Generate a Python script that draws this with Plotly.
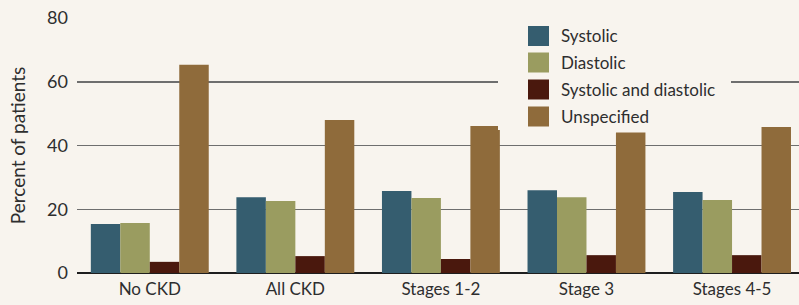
import plotly.graph_objects as go

categories = ["No CKD", "All CKD", "Stages 1-2", "Stage 3", "Stages 4-5"]
systolic = [15.4, 23.8, 25.7, 26.0, 25.4]
diastolic = [15.7, 22.6, 23.5, 23.8, 22.9]
sys_and_dia = [3.5, 5.3, 4.4, 5.6, 5.6]
unspecified = [65.3, 48.0, 46.1, 44.1, 45.8]
series_names = ["Systolic", "Diastolic", "Systolic and diastolic", "Unspecified"]
series_values = [systolic, diastolic, sys_and_dia, unspecified]
colors = ["#355d6f", "#9a9c60", "#4a180d", "#8f6b3b"]
y_ticks = [0, 20, 40, 60, 80]

BG = "#f8f4ee"
TEXT = "#2e2e2e"
FONT = "Lato"

W, H = 799, 305
ML, MR, MT, MB = 77, 0, 18, 32
PW, PH = W - ML - MR, H - MT - MB

fig = go.Figure()
for name, vals, col in zip(series_names, series_values, colors):
    fig.add_trace(go.Bar(x=categories, y=vals, name=name, marker_color=col,
                         marker_line_width=0, showlegend=False, hoverinfo="skip"))

def px_x(p):
    return (p - ML) / PW

def px_y(p):
    return (H - MB - p) / PH

shapes = []
annotations = []
# legend background box (covers gridlines)
shapes.append(dict(type="rect", xref="paper", yref="paper",
                   x0=px_x(498), x1=px_x(731), y0=px_y(130), y1=px_y(22),
                   fillcolor=BG, line_width=0, layer="above"))
row_centers = [36, 62.5, 89.5, 116.5]
for name, col, yc in zip(series_names, colors, row_centers):
    shapes.append(dict(type="rect", xref="paper", yref="paper",
                       x0=px_x(528), x1=px_x(549), y0=px_y(yc + 10), y1=px_y(yc - 10),
                       fillcolor=col, line_width=0, layer="above"))
    annotations.append(dict(xref="paper", yref="paper", x=px_x(559), y=px_y(yc),
                            text=name, showarrow=False, xanchor="left", yanchor="middle",
                            font=dict(family=FONT, size=17, color=TEXT)))

fig.update_layout(
    width=W, height=H,
    margin=dict(l=ML, r=MR, t=MT, b=MB),
    paper_bgcolor=BG, plot_bgcolor=BG,
    barmode="group", bargap=0.19, bargroupgap=0,
    font=dict(family=FONT, size=17, color=TEXT),
    shapes=shapes, annotations=annotations,
    xaxis=dict(range=[-0.5, 4.46], showgrid=False, showline=False, zeroline=False,
               ticks="", tickfont=dict(size=17, color=TEXT), ticklabelstandoff=4,
               automargin=False),
    yaxis=dict(range=[0, 80], tickvals=y_ticks, showgrid=True, gridcolor="#6e6e6e",
               gridwidth=1.5, zeroline=True, zerolinecolor="#1e1e1e", zerolinewidth=2,
               showline=False, ticks="", ticklabelstandoff=8, automargin=False,
               tickfont=dict(size=18, color=TEXT),
               title=dict(text="Percent of patients", standoff=16,
                          font=dict(size=19, color=TEXT))),
)

fig.write_html("out.html", config={"displayModeBar": False, "staticPlot": True},
               post_script="document.body.style.margin='0px';document.body.style.overflow='hidden';")
